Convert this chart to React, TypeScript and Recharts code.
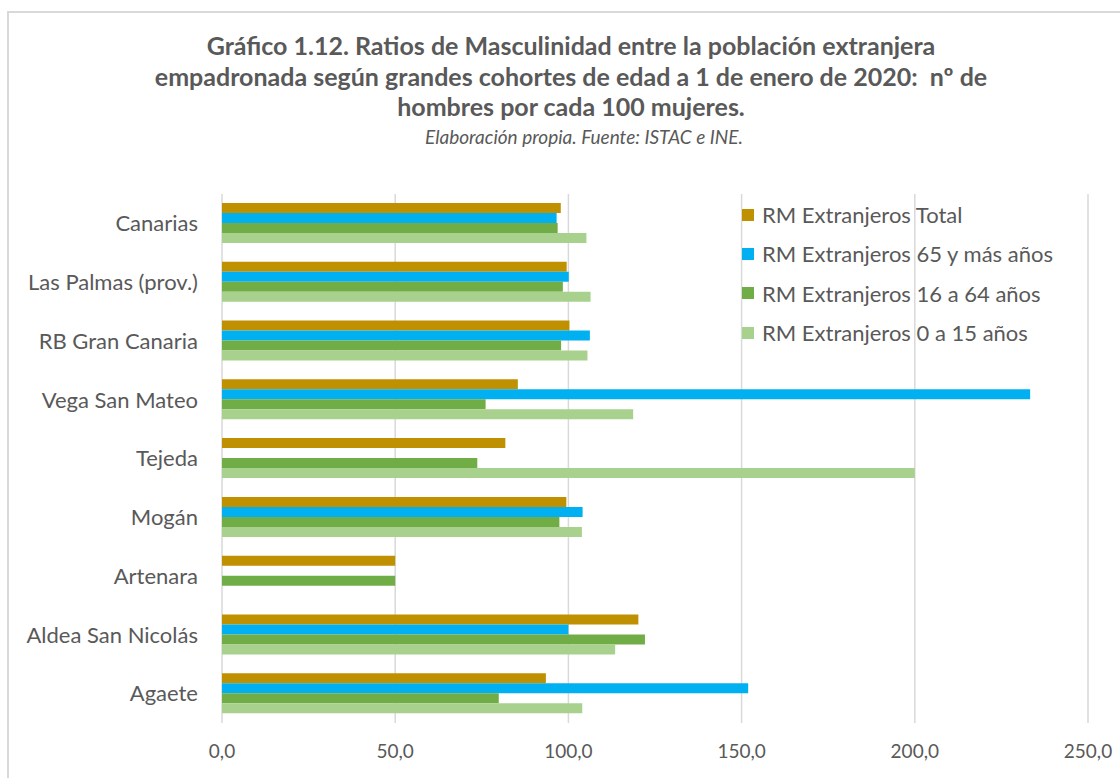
import React from 'react';
import { BarChart, Bar, XAxis, YAxis, CartesianGrid, Legend } from 'recharts';

const categories = [
  'Canarias',
  'Las Palmas (prov.)',
  'RB Gran Canaria',
  'Vega San Mateo',
  'Tejeda',
  'Mogán',
  'Artenara',
  'Aldea San Nicolás',
  'Agaete',
];
const rmTotal = [97.8, 99.5, 100.3, 85.4, 81.8, 99.4, 50.0, 120.2, 93.5];
const rm65 = [96.6, 100.1, 106.2, 233.3, null, 104.1, null, 100.0, 151.9];
const rm16a64 = [96.9, 98.4, 97.9, 76.1, 73.7, 97.4, 50.0, 122.1, 79.9];
const rm0a15 = [105.2, 106.4, 105.5, 118.7, 200.0, 103.9, null, 113.5, 104.0];
const xTicks = [0, 50, 100, 150, 200, 250];

const seriesNames = [
  'RM Extranjeros Total',
  'RM Extranjeros 65 y más años',
  'RM Extranjeros 16 a 64 años',
  'RM Extranjeros 0 a 15 años',
];
const colors = ['#BF9000', '#00B0F0', '#70AD47', '#A9D18E'];

const data = categories.map((name, i) => ({
  name,
  total: rmTotal[i],
  m65: rm65[i],
  m16: rm16a64[i],
  m0: rm0a15[i],
}));

const FONT = 'Lato, "Open Sans", sans-serif';
const GREY = '#595959';

function LegendBox() {
  return (
    <div style={{ fontFamily: FONT }}>
      {seriesNames.map((n, i) => (
        <div key={n} style={{ display: 'flex', alignItems: 'center', height: 39.3 }}>
          <span style={{ width: 12, height: 12, background: colors[i], display: 'inline-block', marginRight: 8 }} />
          <span style={{ fontSize: 22, color: GREY, whiteSpace: 'nowrap' }}>{n}</span>
        </div>
      ))}
    </div>
  );
}

export default function App() {
  return (
    <div style={{ position: 'absolute', left: 0, top: 0, width: 1120, height: 778, background: '#fff', overflow: 'hidden', fontFamily: FONT }}>
      <div style={{ position: 'absolute', left: 7, top: 11, width: 1200, height: 900, border: '2px solid #d9d9d9' }} />
      <div style={{ position: 'absolute', left: 71, top: 30, width: 1000, textAlign: 'center', color: GREY, fontWeight: 700, fontSize: 25, lineHeight: '30.5px', whiteSpace: 'pre' }}>
        <div>Gráfico 1.12. Ratios de Masculinidad entre la población extranjera</div>
        <div>empadronada según grandes cohortes de edad a 1 de enero de 2020:  nº de</div>
        <div>hombres por cada 100 mujeres.</div>
      </div>
      <div style={{ position: 'absolute', left: 84, top: 125, width: 1000, textAlign: 'center', color: GREY, fontStyle: 'italic', fontSize: 19, lineHeight: '24px' }}>
        Elaboración propia. Fuente: ISTAC e INE.
      </div>
      <div style={{ position: 'absolute', left: 0, top: 0 }}>
        <BarChart
          width={1120}
          height={778}
          data={data}
          layout="vertical"
          margin={{ top: 194, right: 32, left: 0, bottom: 0 }}
          barSize={10}
          barGap={0}
        >
          <CartesianGrid horizontal={false} stroke="#d9d9d9" strokeWidth={1.5} />
          <XAxis
            type="number"
            domain={[0, 250]}
            ticks={xTicks}
            axisLine={false}
            tickLine={false}
            tickSize={0}
            tickMargin={22}
            height={55}
            tick={{ fontSize: 19, fill: GREY, fontFamily: FONT }}
            tickFormatter={(v: number) => v.toFixed(1).replace('.', ',')}
          />
          <YAxis
            type="category"
            dataKey="name"
            width={222}
            axisLine={false}
            tickLine={false}
            tickSize={0}
            tickMargin={24}
            tick={{ fontSize: 22, fill: GREY, fontFamily: FONT }}
          />
          <Legend
            layout="horizontal"
            verticalAlign="middle"
            align="center"
            content={<LegendBox />}
            wrapperStyle={{ position: 'absolute', left: 742, top: 195, width: 370 }}
          />
          <Bar dataKey="total" name={seriesNames[0]} fill={colors[0]} isAnimationActive={false} />
          <Bar dataKey="m65" name={seriesNames[1]} fill={colors[1]} isAnimationActive={false} />
          <Bar dataKey="m16" name={seriesNames[2]} fill={colors[2]} isAnimationActive={false} />
          <Bar dataKey="m0" name={seriesNames[3]} fill={colors[3]} isAnimationActive={false} />
        </BarChart>
      </div>
    </div>
  );
}
